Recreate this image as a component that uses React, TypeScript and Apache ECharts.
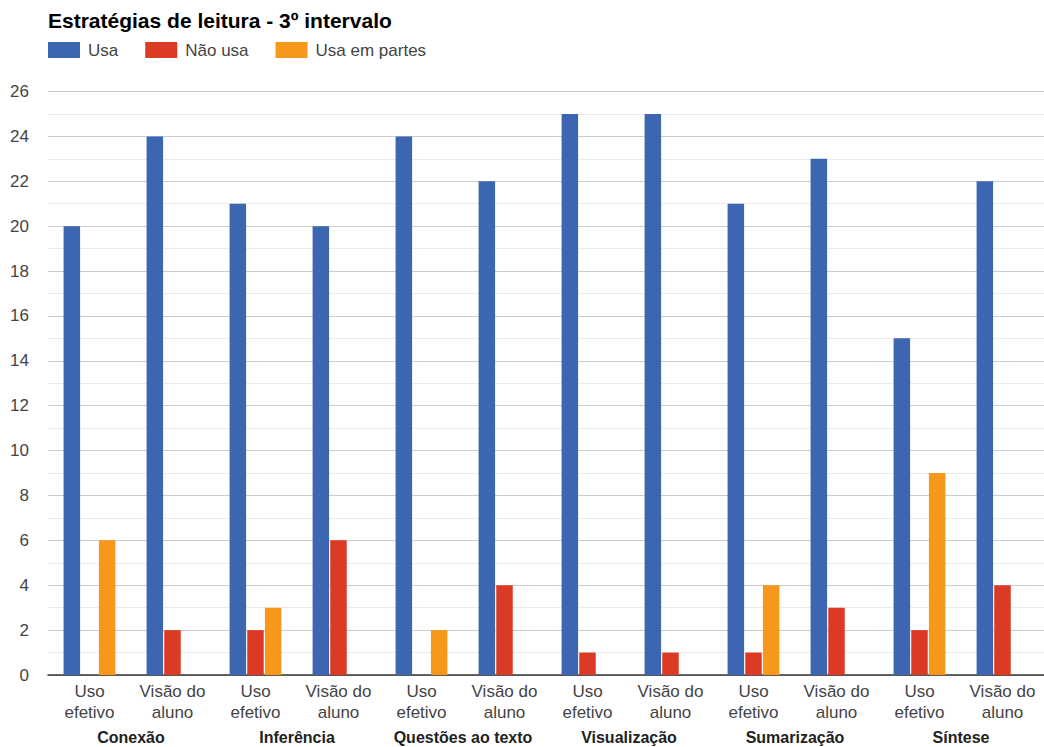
import React, { useEffect, useRef } from "react";
import * as echarts from "echarts";

const groups = ["Conexão", "Inferência", "Questões ao texto", "Visualização", "Sumarização", "Síntese"];
const subLabels = ["Uso\nefetivo", "Visão do\naluno"];
const categories = groups.flatMap((g) => subLabels.map((s) => `${g}|${s}`));
const seriesNames = ["Usa", "Não usa", "Usa em partes"];
const usa = [20, 24, 21, 20, 24, 22, 25, 25, 21, 23, 15, 22];
const naoUsa = [0, 2, 2, 6, 0, 4, 1, 1, 1, 3, 2, 4];
const usaEmPartes = [6, 0, 3, 0, 2, 0, 0, 0, 4, 0, 9, 0];
const colors = ["#3c66b1", "#db3b25", "#f7981c"];

const FONT = "'Liberation Sans', Arial, sans-serif";

export default function App() {
  const ref = useRef<HTMLDivElement>(null);
  useEffect(() => {
    if (!ref.current) return;
    const chart = echarts.init(ref.current, undefined, { renderer: "svg" });
    const values = [usa, naoUsa, usaEmPartes];
    chart.setOption({
      animation: false,
      backgroundColor: "#ffffff",
      textStyle: { fontFamily: FONT },
      title: {
        text: "Estratégias de leitura - 3º intervalo",
        left: 48,
        top: 10,
        padding: 0,
        textStyle: { fontFamily: FONT, fontSize: 21, fontWeight: "bold", color: "#000000" },
      },
      legend: {
        left: 48,
        top: 41.5,
        padding: 0,
        itemWidth: 32,
        itemHeight: 16,
        itemGap: 27,
        icon: "rect",
        data: seriesNames,
        textStyle: { fontFamily: FONT, fontSize: 17, color: "#444444", padding: [0, 0, 0, 3] },
      },
      grid: { left: 48, top: 91.5, width: 1005, height: 587.5, containLabel: false },
      xAxis: [
        {
          type: "category",
          data: categories,
          position: "bottom",
          axisLine: { show: true, lineStyle: { color: "#333333", width: 1.5 } },
          axisTick: { show: false },
          splitLine: { show: false },
          axisLabel: {
            interval: 0,
            margin: 6,
            fontFamily: FONT,
            fontSize: 17,
            lineHeight: 21,
            color: "#444444",
            formatter: (v: string) => v.split("|")[1],
          },
        },
        {
          type: "category",
          data: groups,
          position: "bottom",
          axisLine: { show: false },
          axisTick: { show: false },
          splitLine: { show: false },
          axisLabel: {
            interval: 0,
            margin: 52,
            fontFamily: FONT,
            fontSize: 16,
            lineHeight: 20,
            fontWeight: "bold",
            color: "#222222",
          },
        },
      ],
      yAxis: {
        type: "value",
        min: 0,
        max: 26,
        interval: 2,
        axisLine: { show: false },
        axisTick: { show: false },
        axisLabel: { margin: 19, fontFamily: FONT, fontSize: 17, color: "#444444" },
        splitLine: { show: true, lineStyle: { color: "#cccccc", width: 1 } },
        minorTick: { show: false, splitNumber: 2 },
        minorSplitLine: { show: true, lineStyle: { color: "#ebebeb", width: 1 } },
      },
      series: seriesNames.map((name, i) => ({
        name,
        type: "bar",
        xAxisIndex: 0,
        data: values[i],
        barWidth: 16.5,
        barGap: "7%",
        itemStyle: { color: colors[i] },
      })),
    });
    return () => chart.dispose();
  }, []);
  return (
    <div
      ref={ref}
      style={{ position: "fixed", left: 0, top: 0, width: 1044, height: 747, background: "#fff" }}
    />
  );
}
